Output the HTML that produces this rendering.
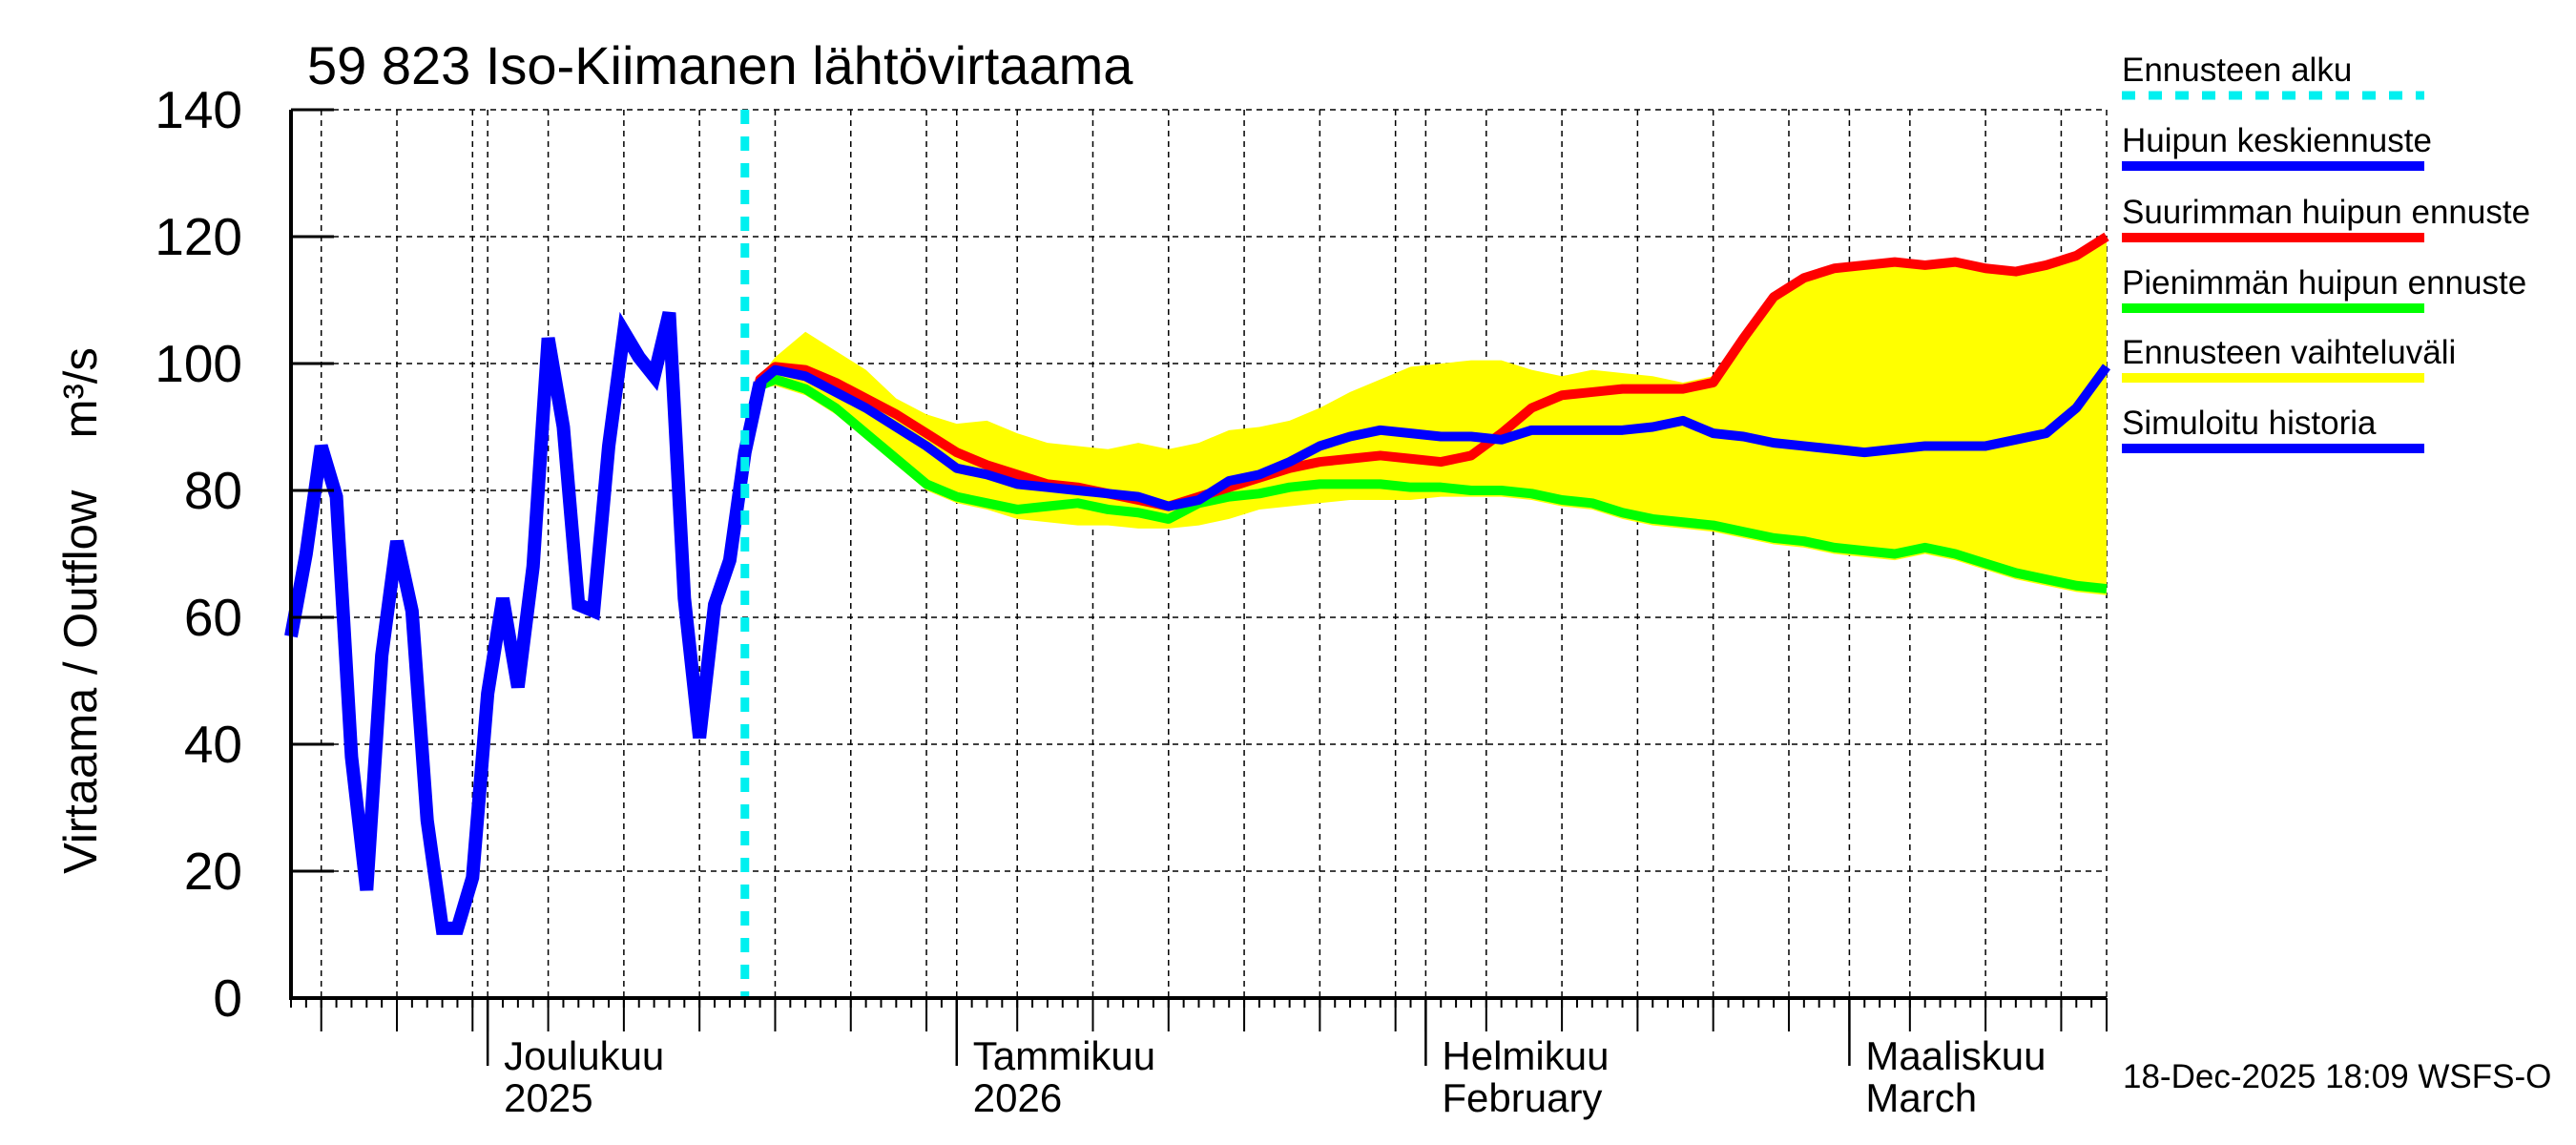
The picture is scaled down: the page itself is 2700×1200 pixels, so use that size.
<!DOCTYPE html>
<html><head><meta charset="utf-8"><style>
html,body{margin:0;padding:0;background:#fff;}
svg{display:block;font-family:"Liberation Sans",sans-serif;}
</style></head><body>
<svg id="chart" width="2700" height="1200" viewBox="0 0 2700 1200" xmlns="http://www.w3.org/2000/svg">
<rect width="2700" height="1200" fill="#fff"/>
<text x="322" y="88" font-size="56">59 823 Iso-Kiimanen lähtövirtaama</text>
<text transform="translate(101,640) rotate(-90)" text-anchor="middle" font-size="49" xml:space="preserve">Virtaama / Outflow    m³/s</text>
<g id="grid"></g>
<g id="series"></g>
<g id="axes"></g>
<g id="legend">
  <text x="2224" y="85" font-size="35">Ennusteen alku</text>
  <line x1="2224" y1="100" x2="2541" y2="100" stroke="#00f0f0" stroke-width="9" stroke-dasharray="14 14"/>
  <text x="2224" y="159" font-size="35">Huipun keskiennuste</text>
  <line x1="2224" y1="174" x2="2541" y2="174" stroke="#0000ff" stroke-width="10"/>
  <text x="2224" y="234" font-size="35">Suurimman huipun ennuste</text>
  <line x1="2224" y1="249" x2="2541" y2="249" stroke="#ff0000" stroke-width="10"/>
  <text x="2224" y="308" font-size="35">Pienimmän huipun ennuste</text>
  <line x1="2224" y1="323" x2="2541" y2="323" stroke="#00ff00" stroke-width="10"/>
  <text x="2224" y="381" font-size="35">Ennusteen vaihteluväli</text>
  <line x1="2224" y1="396" x2="2541" y2="396" stroke="#ffff00" stroke-width="10"/>
  <text x="2224" y="455" font-size="35">Simuloitu historia</text>
  <line x1="2224" y1="470" x2="2541" y2="470" stroke="#0000ff" stroke-width="10"/>
</g>
<text x="2225" y="1140" font-size="35">18-Dec-2025 18:09 WSFS-O</text>
</svg>
<script>
const yTicks = [0,20,40,60,80,100,120,140];
const monthLabels1 = ["Joulukuu","Tammikuu","Helmikuu","Maaliskuu"];
const monthLabels2 = ["2025","2026","February","March"];
const monthDays = [13,44,75,103];
const gridDays = [2,7,12,13,17,22,27,32,37,42,44,48,53,58,63,68,73,75,79,84,89,94,99,103,107,112,117,120];
const forecastStartDay = 30;
const historyValues = [57,70,87,79,38,17,54,72,61,28,11,11,19,48,63,49,68,104,90,62,61,87,105,101,98,108,63,41,62,69,86,97];
const forecastDays = [30,31,32,34,36,38,40,42,44,46,48,50,52,54,56,58,60,62,64,66,68,70,72,74,76,78,80,82,84,86,88,90,92,94,96,98,100,102,104,106,108,110,112,114,116,118,120];
const medianValues = [86,97,99,98,95.5,93,90,87,83.5,82.5,81,80.5,80,79.5,79,77.5,78.5,81.5,82.5,84.5,87,88.5,89.5,89,88.5,88.5,88,89.5,89.5,89.5,89.5,90,91,89,88.5,87.5,87,86.5,86,86.5,87,87,87,88,89,93,99.5];
const maxValues = [86,97.5,99.5,99,97,94.5,92,89,86,84,82.5,81,80.5,79.5,78.5,77.5,79,80.5,82,83.5,84.5,85,85.5,85,84.5,85.5,89,93,95,95.5,96,96,96,97,104,110.5,113.5,115,115.5,116,115.5,116,115,114.5,115.5,117,120];
const minValues = [86,96.5,97.5,96,93,89,85,81,79,78,77,77.5,78,77,76.5,75.5,78,79,79.5,80.5,81,81,81,80.5,80.5,80,80,79.5,78.5,78,76.5,75.5,75,74.5,73.5,72.5,72,71,70.5,70,71,70,68.5,67,66,65,64.5];
const upperValues = [86,98,101,105,102,99,94.5,92,90.5,91,89,87.5,87,86.5,87.5,86.5,87.5,89.5,90,91,93,95.5,97.5,99.5,100,100.5,100.5,99,98,99,98.5,98,97,98,104,110.5,113.5,115,115.5,116,115.5,116,115,114.5,115.5,117,120];
const lowerValues = [86,96,96.5,95,92,88,84,80,78,77,75.5,75,74.5,74.5,74,74,74.5,75.5,77,77.5,78,78.5,78.5,78.5,79,79,79,78.5,77.5,77,75.5,74.5,74,73.5,72.5,71.5,71,70,69.5,69,70,69,67.5,66,65,64,63.5];

const NS = "http://www.w3.org/2000/svg";
const X0 = 305, X1 = 2208, Y0 = 1046, YT = 115, DAYS = 120, VMAX = 140;
function xs(d){ return X0 + d * (X1 - X0) / DAYS; }
function ys(v){ return Y0 - v * (Y0 - YT) / VMAX; }
function mk(tag, attrs, parent){
  const e = document.createElementNS(NS, tag);
  for (const k in attrs) e.setAttribute(k, attrs[k]);
  parent.appendChild(e);
  return e;
}
const grid = document.getElementById('grid');
const series = document.getElementById('series');
const axes = document.getElementById('axes');

yTicks.forEach(v => {
  if (v > 0) {
    const g = mk('line', {x1:X0, x2:X1, y1:ys(v), y2:ys(v), stroke:'#000', 'stroke-width':1.5, 'stroke-dasharray':'6 5'}, grid);
    
    
  }
  const t = mk('line', {x1:X0, x2:X0+45, y1:ys(v), y2:ys(v), stroke:'#000', 'stroke-width':3}, axes);
  
  
  const l = mk('text', {x:254, y:ys(v)+19, 'text-anchor':'end', 'font-size':55}, axes);
  l.textContent = v;
  
  
});
gridDays.forEach(d => {
  const g = mk('line', {x1:xs(d), x2:xs(d), y1:YT, y2:Y0, stroke:'#000', 'stroke-width':1.5, 'stroke-dasharray':'6 5'}, grid);
  
  
  const t = mk('line', {x1:xs(d), x2:xs(d), y1:Y0, y2:1081, stroke:'#000', 'stroke-width':2}, axes);
  
  
});
for (let d = 0; d <= DAYS; d++) {
  const t = mk('line', {x1:xs(d), x2:xs(d), y1:Y0, y2:1056, stroke:'#000', 'stroke-width':2}, axes);
  
  
}
monthDays.forEach((d, i) => {
  const t = mk('line', {x1:xs(d), x2:xs(d), y1:Y0, y2:1117, stroke:'#000', 'stroke-width':2.5}, axes);
  
  
  const a = mk('text', {x:xs(d)+17, y:1121, 'font-size':42}, axes);
  a.textContent = monthLabels1[i];
  
  
  const b = mk('text', {x:xs(d)+17, y:1165, 'font-size':42}, axes);
  b.textContent = monthLabels2[i];
  
  
});
const ax = mk('path', {d:`M${X0},${YT} V${Y0} H${X1}`, fill:'none', stroke:'#000', 'stroke-width':4}, axes);



const n = Math.min(forecastDays.length, upperValues.length, lowerValues.length);
let pts = [];
for (let i = 0; i < n; i++) pts.push(xs(forecastDays[i]) + ',' + ys(upperValues[i]));
for (let i = n - 1; i >= 0; i--) pts.push(xs(forecastDays[i]) + ',' + ys(lowerValues[i]));
const band = mk('polygon', {points:pts.join(' '), fill:'#ffff00'}, series);



function line(vals, color, w, name){
  const m = Math.min(forecastDays.length, vals.length);
  const p = [];
  for (let i = 0; i < m; i++) p.push(xs(forecastDays[i]) + ',' + ys(vals[i]));
  const e = mk('polyline', {points:p.join(' '), fill:'none', stroke:color, 'stroke-width':w, 'stroke-linejoin':'round'}, series);
  
  
}
line(minValues, '#00ff00', 10, 'min-forecast-line');
line(maxValues, '#ff0000', 10, 'max-forecast-line');
line(medianValues, '#0000ff', 10, 'median-forecast-line');

const hp = historyValues.map((v, i) => xs(i) + ',' + ys(v)).join(' ');
const hist = mk('polyline', {points:hp, fill:'none', stroke:'#0000ff', 'stroke-width':14, 'stroke-linejoin':'miter'}, series);



const fs = mk('line', {x1:xs(forecastStartDay), x2:xs(forecastStartDay), y1:YT, y2:Y0, stroke:'#00f0f0', 'stroke-width':9, 'stroke-dasharray':'15 13'}, series);


</script>
</body></html>
